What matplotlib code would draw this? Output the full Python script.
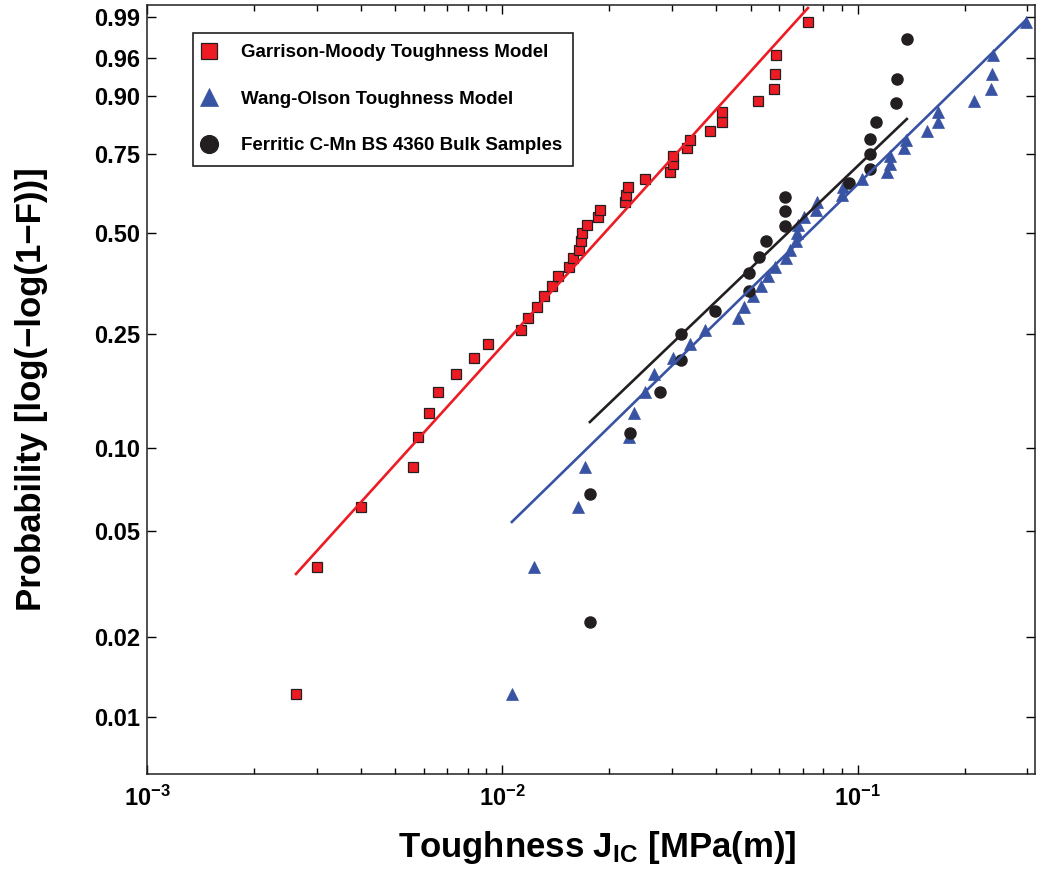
import numpy as np
import matplotlib
matplotlib.use("Agg")
import matplotlib.pyplot as plt
from matplotlib.ticker import FixedLocator, NullLocator, NullFormatter, LogLocator

plt.rcParams['font.family'] = ['Liberation Sans', 'DejaVu Sans']
plt.rcParams['font.weight'] = 'bold'
plt.rcParams['mathtext.fontset'] = 'custom'
plt.rcParams['mathtext.rm'] = 'Liberation Sans:bold'
plt.rcParams['mathtext.bf'] = 'Liberation Sans:bold'
plt.rcParams['mathtext.it'] = 'Liberation Sans:bold'
plt.rcParams['mathtext.default'] = 'bf'

# median-rank probabilities (41 samples for the models, 22 for the bulk tests)
p_model = [0.0122, 0.0366, 0.0610, 0.0854, 0.1098, 0.1341, 0.1585, 0.1829, 0.2073, 0.2317,
           0.2561, 0.2805, 0.3049, 0.3293, 0.3537, 0.3780, 0.4024, 0.4268, 0.4512, 0.4756,
           0.5000, 0.5244, 0.5488, 0.5732, 0.5976, 0.6220, 0.6463, 0.6707, 0.6951, 0.7195,
           0.7439, 0.7683, 0.7927, 0.8171, 0.8415, 0.8659, 0.8902, 0.9146, 0.9390, 0.9634,
           0.9878]
p_bulk = [0.0227, 0.0682, 0.1136, 0.1591, 0.2045, 0.2500, 0.2955, 0.3409, 0.3864, 0.4318,
          0.4773, 0.5227, 0.5682, 0.6136, 0.6591, 0.7045, 0.7500, 0.7955, 0.8409, 0.8864,
          0.9318, 0.9773]

# toughness values J_IC [MPa(m)]
j_garrison = [0.002625, 0.003008, 0.004000, 0.005601, 0.005786, 0.006214, 0.006587, 0.007399,
              0.008317, 0.009104, 0.01127, 0.01179, 0.01250, 0.01308, 0.01378, 0.01433,
              0.01538, 0.01579, 0.01641, 0.01663, 0.01674, 0.01729, 0.01856, 0.01880,
              0.02211, 0.02225, 0.02254, 0.02517, 0.02959, 0.03017, 0.03017, 0.03304,
              0.03368, 0.03835, 0.04145, 0.04145, 0.05233, 0.05804, 0.05841, 0.05879, 0.07236]
j_wang = [0.01063, 0.01226, 0.01631, 0.01707, 0.02269, 0.02344, 0.02517, 0.02668, 0.03017,
          0.03368, 0.03713, 0.04597, 0.04779, 0.05066, 0.05336, 0.05583, 0.05841, 0.06272,
          0.06436, 0.06691, 0.06734, 0.06778, 0.07047, 0.07617, 0.07666, 0.09016, 0.09074,
          0.1026, 0.1207, 0.1230, 0.1230, 0.1347, 0.1365, 0.1563, 0.1679, 0.1679, 0.2120,
          0.2366, 0.2381, 0.2397, 0.2970]
j_bulk = [0.01762, 0.01762, 0.02284, 0.02773, 0.03177, 0.03177, 0.03960, 0.04937, 0.04937,
          0.05267, 0.05512, 0.06232, 0.06232, 0.06232, 0.09434, 0.1081, 0.1081, 0.1081,
          0.1123, 0.1279, 0.1288, 0.1373]

# weibull fits (scale, shape)
fit_garrison = (0.02471, 1.4944)
fit_wang = (0.09528, 1.320)
fit_bulk = (0.08409, 1.2923)

labels = ["Garrison-Moody Toughness Model", "Wang-Olson Toughness Model",
          "Ferritic C-Mn BS 4360 Bulk Samples"]
yticks = [0.01, 0.02, 0.05, 0.10, 0.25, 0.50, 0.75, 0.90, 0.96, 0.99]
ytick_labels = ["0.01", "0.02", "0.05", "0.10", "0.25", "0.50", "0.75", "0.90", "0.96", "0.99"]

red = "#ed1c24"
blue = "#3953a4"
black = "#231f20"


def fwd(p):
    p = np.clip(p, 1e-9, 1 - 1e-9)
    return np.log(-np.log(1 - p))


def inv(z):
    return 1 - np.exp(-np.exp(z))


def fit_line(ax, xs, fit, color):
    a, b = fit
    x = np.geomspace(min(xs), max(xs), 50)
    p = 1 - np.exp(-(x / a) ** b)
    ax.plot(x, p, color=color, lw=1.9, zorder=3)


fig = plt.figure(figsize=(10.37, 8.8), dpi=100)
ax = fig.add_axes([147 / 1037, 106 / 880, 888 / 1037, 769 / 880])
ax.set_xscale("log")
ax.set_yscale("function", functions=(fwd, inv))

h1, = ax.plot(j_garrison, p_model, "s", ms=7, mfc=red, mec=black, mew=0.9, ls="none", zorder=2)
h2, = ax.plot(j_wang, p_model, "^", ms=8.5, mfc=blue, mec=blue, mew=0.5, ls="none", zorder=2)
h3, = ax.plot(j_bulk, p_bulk, "o", ms=8, mfc=black, mec=black, ls="none", zorder=2)

fit_line(ax, j_garrison, fit_garrison, red)
fit_line(ax, j_wang, fit_wang, blue)
fit_line(ax, j_bulk, fit_bulk, black)

ax.set_xlim(1e-3, 0.315)
ax.set_ylim(0.006065, 0.99399)

ax.xaxis.set_major_locator(FixedLocator([1e-3, 1e-2, 1e-1]))
ax.set_xticklabels([r"$\mathbf{10^{-3}}$", r"$\mathbf{10^{-2}}$", r"$\mathbf{10^{-1}}$"])
ax.xaxis.set_minor_locator(LogLocator(base=10, subs=np.arange(2, 10)))
ax.xaxis.set_minor_formatter(NullFormatter())

ax.yaxis.set_major_locator(FixedLocator(yticks))
ax.set_yticklabels(ytick_labels)
ax.yaxis.set_minor_locator(NullLocator())

ax.tick_params(which="both", direction="in", top=True, right=True, labelsize=17, width=1.0)
ax.tick_params(which="major", length=6.5, pad=5)
ax.tick_params(which="minor", length=4)
ax.tick_params(axis="x", which="major", pad=8.5)
for s in ax.spines.values():
    s.set_linewidth(1.1)
    s.set_color(black)

ax.set_xlabel(r"Toughness $\mathbf{J_{IC}}$ [MPa(m)]", fontsize=25, fontweight="bold")
ax.set_ylabel("Probability [log(\u2212log(1\u2212F))]", fontsize=25, fontweight="bold")
ax.xaxis.set_label_coords(0.507, -0.071)
ax.yaxis.set_label_coords(-0.112, 0.5)

leg = ax.legend([h1, h2, h3], labels, loc="upper left", bbox_to_anchor=(0.0518, 0.9636),
                borderaxespad=0, fancybox=False, edgecolor=black, fontsize=13.5,
                markerscale=1.6, labelspacing=1.57, handlelength=0.5, handletextpad=1.45,
                borderpad=0.6, framealpha=1)
leg.get_frame().set_linewidth(1.2)

plt.savefig("out.png", dpi=100)
plt.close()
